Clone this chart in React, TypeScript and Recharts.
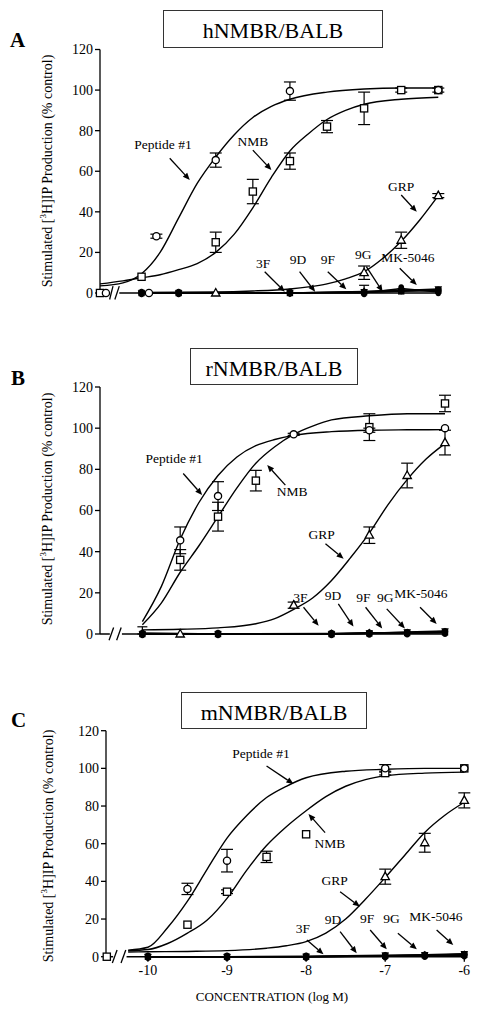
import React from 'react';
import {
  ComposedChart,
  Line,
  Scatter,
  XAxis,
  YAxis,
  ErrorBar,
  ReferenceLine,
  ReferenceDot,
} from 'recharts';

const FONT = '"Liberation Serif", "Times New Roman", serif';

// ---------- shared ----------
const yTicks = [0, 20, 40, 60, 80, 100, 120];
const xTicks = [-10, -9, -8, -7, -6];
const antagonistNames = ['3F', '9D', '9F', '9G', 'MK-5046'];

// ---------- Panel A : hNMBR/BALB ----------
const peptideFitA: number[][] = [
  [-10.56, 3.5], [-10.25, 5], [-10, 9.5], [-9.75, 20], [-9.5, 37], [-9.25, 54], [-9, 67],
  [-8.75, 78], [-8.5, 86.5], [-8.25, 92], [-8, 95.5], [-7.5, 99], [-7, 100.5], [-6.5, 101], [-6, 101],
];
const nmbFitA: number[][] = [
  [-10.56, 4.5], [-10.25, 6], [-10, 7.5], [-9.75, 9], [-9.5, 11.5], [-9.25, 14.5], [-9, 20],
  [-8.75, 29], [-8.5, 42], [-8.25, 57], [-8, 70], [-7.75, 78.5], [-7.5, 85.5], [-7.25, 90],
  [-7, 93], [-6.5, 95.5], [-6, 96.5],
];
const grpFitA: number[][] = [
  [-10, 0.3], [-9, 0.5], [-8.5, 1], [-8, 2], [-7.75, 3], [-7.5, 4.5], [-7.25, 7], [-7, 10.5],
  [-6.75, 17], [-6.5, 25.5], [-6.25, 36], [-6, 48],
];
const peptidePtsA: number[][] = [[-10.48, 0], [-9.9, 0], [-9.8, 28, 1], [-9, 65.5, 3.5], [-8, 99.5, 4.5], [-6, 100]];
const nmbPtsA: number[][] = [
  [-10.56, 0], [-10, 8], [-9, 25, 5], [-8.5, 50, 6], [-8, 65, 4], [-7.5, 82, 3], [-7, 91, 8],
  [-6.5, 100, 1], [-6, 100, 1],
];
const grpPtsA: number[][] = [[-9, 0], [-7, 10, 3.3], [-6.5, 26, 4], [-6, 48, 1]];
const antagXA = [-10, -9.5, -8, -7, -6.5, -6];
const antagYA: number[][] = [
  [0, 0, 0, 0.4, 0.8, 1.2],
  [0, 0, 0, 0.3, 1.0, 1.6],
  [0, 0, 0, 0.6, 1.2, 2.0],
  [0, 0, 0, 0.8, 1.5, 1.0],
  [0, 0, 0.2, 0, 2.2, 0.5],
];
const antagErrA: number[][] = [[], [], [], [0, 0, 0, 3], []];
const labelsA = [
  { text: 'Peptide #1', tx: -9.71, ty: 73.4, x1: -9.62, y1: 66.4, x2: -9.35, y2: 55.7 },
  { text: 'NMB', tx: -8.5, ty: 74.5, x1: -8.5, y1: 70.4, x2: -8.25, y2: 60.6 },
  { text: 'GRP', tx: -6.5, ty: 52.4, x1: -6.5, y1: 48.3, x2: -6.29, y2: 40 },
  { text: '3F', tx: -8.36, ty: 14.6, x1: -8.34, y1: 10.5, x2: -8.07, y2: 0.6 },
  { text: '9D', tx: -7.89, ty: 16.6, x1: -7.87, y1: 10.5, x2: -7.66, y2: 0.6 },
  { text: '9F', tx: -7.49, ty: 16.6, x1: -7.49, y1: 10.5, x2: -7.24, y2: 1.8 },
  { text: '9G', tx: -7.01, ty: 19.1, x1: -6.97, y1: 13, x2: -6.75, y2: 0.6 },
  { text: 'MK-5046', tx: -6.41, ty: 17.6, x1: -6.52, y1: 12.2, x2: -6.29, y2: 3.9 },
];

// ---------- Panel B : rNMBR/BALB ----------
const peptideFitB: number[][] = [
  [-10, 6], [-9.75, 23], [-9.5, 46], [-9.25, 64], [-9, 77], [-8.75, 86], [-8.5, 91.5],
  [-8.25, 94.5], [-8, 96.5], [-7.5, 98.3], [-7, 99], [-6.5, 99.2], [-6, 99.3],
];
const nmbFitB: number[][] = [
  [-10, 4.5], [-9.75, 15], [-9.5, 30], [-9.25, 43], [-9, 57], [-8.75, 71], [-8.5, 83],
  [-8.25, 91], [-8, 97], [-7.75, 101], [-7.5, 104], [-7, 106], [-6.5, 107], [-6, 107],
];
const grpFitB: number[][] = [
  [-10, 2], [-9.5, 2.3], [-9, 3], [-8.5, 5], [-8.25, 7.5], [-8, 12], [-7.75, 17.5], [-7.5, 26],
  [-7.25, 37], [-7, 49], [-6.75, 63], [-6.5, 75], [-6.25, 85], [-6, 92.5],
];
const peptidePtsB: number[][] = [[-9.5, 45.5, 6.5], [-9, 67, 7], [-8, 97, 0.5], [-7, 99, 1], [-6, 100]];
const nmbPtsB: number[][] = [[-9.5, 36, 5], [-9, 57, 7], [-8.5, 74.5, 5], [-7, 100.5, 6.5], [-6, 112, 4]];
const grpPtsB: number[][] = [[-9.5, 0], [-8, 14, 1.5], [-7, 48, 4], [-6.5, 77, 6], [-6, 93, 6]];
const antagXB = [-10, -9, -7.5, -7, -6.5, -6];
const antagYB: number[][] = [
  [0, 0, 0, 0.3, 0.5, 0.8],
  [0, 0, 0.2, 0.5, 0.8, 1.2],
  [0, 0, 0, 0.4, 1.0, 1.5],
  [0.5, 0, 0.3, 0.6, 0.6, 1.0],
  [0, 0, 0, 0.2, 0.4, 0.6],
];
const antagErrB: number[][] = [[3.5], [], [], [], []];
const labelsB = [
  { text: 'Peptide #1', tx: -9.58, ty: 85.4, x1: -9.46, y1: 78, x2: -9.21, y2: 67.5 },
  { text: 'NMB', tx: -8.02, ty: 69.1, x1: -8.11, y1: 72.3, x2: -8.35, y2: 82.1 },
  { text: 'GRP', tx: -7.63, ty: 48.4, x1: -7.58, y1: 43.9, x2: -7.34, y2: 36.6 },
  { text: '3F', tx: -7.91, ty: 17.9, x1: -7.87, y1: 13, x2: -7.67, y2: 4 },
  { text: '9D', tx: -7.48, ty: 18.7, x1: -7.41, y1: 14.6, x2: -7.21, y2: 3.6 },
  { text: '9F', tx: -7.08, ty: 17.9, x1: -7.05, y1: 13, x2: -6.83, y2: 2.7 },
  { text: '9G', tx: -6.79, ty: 17.9, x1: -6.77, y1: 12.2, x2: -6.53, y2: 2.7 },
  { text: 'MK-5046', tx: -6.32, ty: 19.5, x1: -6.33, y1: 13, x2: -6.11, y2: 4.9 },
];

// ---------- Panel C : mNMBR/BALB ----------
const peptideFitC: number[][] = [
  [-10.25, 3.5], [-10, 5], [-9.75, 15.5], [-9.5, 29.5], [-9.25, 46.5], [-9, 63], [-8.75, 75],
  [-8.5, 84.5], [-8.25, 90.5], [-8, 95], [-7.5, 98.5], [-7, 99.5], [-6.5, 100], [-6, 100],
];
const nmbFitC: number[][] = [
  [-10.25, 3.2], [-10, 3.8], [-9.75, 7], [-9.5, 12.5], [-9.25, 19.5], [-9, 31], [-8.75, 46],
  [-8.5, 59], [-8.25, 69], [-8, 77.5], [-7.75, 85], [-7.5, 90.5], [-7.25, 94], [-7, 96],
  [-6.5, 97.5], [-6, 98],
];
const grpFitC: number[][] = [
  [-10.25, 2.5], [-10, 2.6], [-9.5, 2.8], [-9, 3.2], [-8.5, 4.5], [-8.25, 5.8], [-8, 8],
  [-7.75, 12.5], [-7.5, 20], [-7.25, 30.5], [-7, 42], [-6.75, 54], [-6.5, 66], [-6.25, 75], [-6, 82],
];
const peptidePtsC: number[][] = [[-9.5, 36, 3], [-9, 51, 6], [-7, 100, 2], [-6, 100]];
const nmbPtsC: number[][] = [[-10.52, 0], [-9.5, 17], [-9, 34.5, 1], [-8.5, 53, 3], [-8, 65], [-7, 97.5, 1], [-6, 100]];
const grpPtsC: number[][] = [[-7, 42.5, 4], [-6.5, 60.5, 5], [-6, 83, 4]];
const antagXC = [-10, -9, -8, -7, -6.5, -6];
const antagYC: number[][] = [
  [0, 0, 0, 0.5, 0.8, 1.0],
  [0, 0, 0, 0.3, 0.6, 1.3],
  [0, 0, 0.2, 0.8, 1.0, 1.6],
  [0, 0, 0, 0.4, 0.9, 1.2],
  [0, 0, 0, 0.2, 0.5, 0.8],
];
const antagErrC: number[][] = [[], [], [], [], []];
const labelsC = [
  { text: 'Peptide #1', tx: -8.57, ty: 108, x1: -8.5, y1: 101.3, x2: -8.16, y2: 91.7 },
  { text: 'NMB', tx: -7.7, ty: 60.2, x1: -7.76, y1: 65.9, x2: -7.97, y2: 75.8 },
  { text: 'GRP', tx: -7.64, ty: 40.7, x1: -7.57, y1: 34.5, x2: -7.32, y2: 26.6 },
  { text: '3F', tx: -8.04, ty: 15.1, x1: -7.99, y1: 8.9, x2: -7.78, y2: 1.3 },
  { text: '9D', tx: -7.66, ty: 19.5, x1: -7.57, y1: 13.3, x2: -7.36, y2: 1.8 },
  { text: '9F', tx: -7.23, ty: 20.4, x1: -7.19, y1: 14.2, x2: -6.98, y2: 3.9 },
  { text: '9G', tx: -6.92, ty: 20.4, x1: -6.84, y1: 12.4, x2: -6.6, y2: 3.9 },
  { text: 'MK-5046', tx: -6.36, ty: 21.2, x1: -6.35, y1: 14.2, x2: -6.14, y2: 6.2 },
];

// ---------- helpers ----------
type Pt = { x: number; y: number; err?: number | number[] };
const toPts = (rows: number[][]): Pt[] => rows.map((r) => ({ x: r[0], y: r[1], err: r[2] }));
// antagonist error bars drawn upward only, so they never reach below zero
const toSeries = (xs: number[], ys: number[], errs: number[]): Pt[] =>
  xs.map((x, i) => ({ x, y: ys[i], err: errs[i] ? [Math.min(ys[i], 0.5), errs[i]] : undefined }));

const SW = 1.3;
const OpenCircle = (p: any) => <circle cx={p.cx} cy={p.cy} r={3.6} fill="#fff" stroke="#000" strokeWidth={SW} />;
const OpenSquare = (p: any) => (
  <rect x={p.cx - 3.6} y={p.cy - 3.6} width={7.2} height={7.2} fill="#fff" stroke="#000" strokeWidth={SW} />
);
const OpenTriangle = (p: any) => (
  <path d={`M${p.cx},${p.cy - 4.5}L${p.cx + 4.2},${p.cy + 3}L${p.cx - 4.2},${p.cy + 3}Z`} fill="#fff" stroke="#000" strokeWidth={SW} />
);
const FillSquare = (p: any) => <rect x={p.cx - 3.2} y={p.cy - 3.2} width={6.4} height={6.4} fill="#000" />;
const FillCircle = (p: any) => <circle cx={p.cx} cy={p.cy} r={3.2} fill="#000" />;
const FillTriangle = (p: any) => <path d={`M${p.cx},${p.cy + 3.8}L${p.cx + 3.8},${p.cy - 2.6}L${p.cx - 3.8},${p.cy - 2.6}Z`} fill="#000" />;
const FillDiamond = (p: any) => <path d={`M${p.cx},${p.cy - 4.2}L${p.cx + 3.2},${p.cy}L${p.cx},${p.cy + 4.2}L${p.cx - 3.2},${p.cy}Z`} fill="#000" />;
const FillOval = (p: any) => <ellipse cx={p.cx} cy={p.cy} rx={3} ry={4.2} fill="#000" />;
const antagShapes = [FillSquare, FillCircle, FillTriangle, FillDiamond, FillOval];

const Arrow = (p: any) => {
  const { x1, y1, x2, y2 } = p;
  const dx = x2 - x1;
  const dy = y2 - y1;
  const len = Math.hypot(dx, dy) || 1;
  const ux = dx / len;
  const uy = dy / len;
  const hl = 7;
  const hw = 3;
  const bx = x2 - ux * hl;
  const by = y2 - uy * hl;
  return (
    <g>
      <line x1={x1} y1={y1} x2={bx} y2={by} stroke="#000" strokeWidth={1.3} />
      <path d={`M${x2},${y2}L${bx - uy * hw},${by + ux * hw}L${bx + uy * hw},${by - ux * hw}Z`} fill="#000" />
    </g>
  );
};

type PanelCfg = {
  top: number;
  height: number;
  margin: { top: number; right: number; bottom: number; left: number };
  xDomain: [number, number];
  showX: boolean;
  axisSegs: number[][];
  slashes: number[][];
  fits: number[][][];
  peptide: number[][];
  nmb: number[][];
  grp: number[][];
  antagX: number[];
  antagY: number[][];
  antagErr: number[][];
  labels: { text: string; tx: number; ty: number; x1: number; y1: number; x2: number; y2: number }[];
};

const Panel = ({ c }: { c: PanelCfg }) => (
  <div style={{ position: 'absolute', left: 0, top: c.top, width: 480, height: c.height }}>
    <ComposedChart width={480} height={c.height} margin={c.margin} style={{ fontFamily: FONT }}>
      <XAxis
        type="number"
        dataKey="x"
        domain={c.xDomain}
        hide={!c.showX}
        ticks={xTicks}
        interval={0}
        tickFormatter={(v: number) => String(v)}
        axisLine={false}
        tickLine={{ stroke: '#000', strokeWidth: 1.3 }}
        tickSize={5}
        tickMargin={3}
        height={30}
        tick={{ fill: '#000', fontSize: 14, fontFamily: FONT }}
      />
      <YAxis
        type="number"
        dataKey="y"
        domain={[0, 120]}
        ticks={yTicks}
        interval={0}
        width={40}
        axisLine={{ stroke: '#000', strokeWidth: 1.3 }}
        tickLine={{ stroke: '#000', strokeWidth: 1.3 }}
        tickSize={5}
        tickMargin={2}
        tick={{ fill: '#000', fontSize: 14, fontFamily: FONT }}
      />
      {c.axisSegs.map((s, i) => (
        <ReferenceLine
          key={`ax${i}`}
          segment={[{ x: s[0], y: 0 }, { x: s[1], y: 0 }]}
          stroke="#000"
          strokeWidth={1.5}
          ifOverflow="visible"
        />
      ))}
      {c.slashes.map((s, i) => (
        <ReferenceLine
          key={`sl${i}`}
          segment={[{ x: s[0], y: s[1] }, { x: s[2], y: s[3] }]}
          stroke="#000"
          strokeWidth={1.3}
          ifOverflow="visible"
        />
      ))}
      {c.antagY.map((ys, i) => (
        <Line
          key={`al${i}`}
          data={toSeries(c.antagX, ys, [])}
          dataKey="y"
          type="linear"
          stroke="#000"
          strokeWidth={1.4}
          dot={false}
          isAnimationActive={false}
          name={antagonistNames[i]}
        />
      ))}
      {c.fits.map((f, i) => (
        <Line
          key={`fit${i}`}
          data={toPts(f)}
          dataKey="y"
          type="monotone"
          stroke="#000"
          strokeWidth={1.4}
          dot={false}
          isAnimationActive={false}
        />
      ))}
      {c.antagY.map((ys, i) => (
        <Scatter
          key={`as${i}`}
          data={toSeries(c.antagX, ys, c.antagErr[i])}
          dataKey="y"
          shape={antagShapes[i]}
          isAnimationActive={false}
        >
          <ErrorBar dataKey="err" direction="y" width={5} stroke="#000" strokeWidth={1.2} />
        </Scatter>
      ))}
      <Scatter data={toPts(c.grp)} dataKey="y" shape={OpenTriangle} isAnimationActive={false}>
        <ErrorBar dataKey="err" direction="y" width={6} stroke="#000" strokeWidth={1.2} />
      </Scatter>
      <Scatter data={toPts(c.nmb)} dataKey="y" shape={OpenSquare} isAnimationActive={false}>
        <ErrorBar dataKey="err" direction="y" width={6} stroke="#000" strokeWidth={1.2} />
      </Scatter>
      <Scatter data={toPts(c.peptide)} dataKey="y" shape={OpenCircle} isAnimationActive={false}>
        <ErrorBar dataKey="err" direction="y" width={6} stroke="#000" strokeWidth={1.2} />
      </Scatter>
      {c.labels.map((l, i) => (
        <ReferenceLine
          key={`ar${i}`}
          segment={[{ x: l.x1, y: l.y1 }, { x: l.x2, y: l.y2 }]}
          shape={Arrow}
          ifOverflow="visible"
        />
      ))}
      {c.labels.map((l, i) => (
        <ReferenceDot
          key={`lb${i}`}
          x={l.tx}
          y={l.ty}
          r={0}
          ifOverflow="visible"
          shape={(p: any) => (
            <text
              x={p.cx}
              y={p.cy}
              textAnchor="middle"
              dominantBaseline="central"
              fontFamily={FONT}
              fontSize={13.5}
              fill="#000"
            >
              {l.text}
            </text>
          )}
        />
      ))}
    </ComposedChart>
  </div>
);

const panelA: PanelCfg = {
  top: 0,
  height: 330,
  margin: { top: 49.5, right: 41.7, bottom: 37, left: 60 },
  xDomain: [-10.56, -6],
  showX: false,
  axisSegs: [[-10.56, -10.43], [-10.3, -6]],
  slashes: [[-10.43, -3.2, -10.385, 3.4], [-10.36, -3.2, -10.3, 3.4]],
  fits: [peptideFitA, nmbFitA, grpFitA],
  peptide: peptidePtsA,
  nmb: nmbPtsA,
  grp: grpPtsA,
  antagX: antagXA,
  antagY: antagYA,
  antagErr: antagErrA,
  labels: labelsA,
};

const panelB: PanelCfg = {
  top: 330,
  height: 330,
  margin: { top: 57, right: 35, bottom: 26, left: 60 },
  xDomain: [-10.56, -6],
  showX: false,
  axisSegs: [[-10.56, -10.43], [-10.27, -6]],
  slashes: [[-10.44, -3, -10.38, 3.2], [-10.34, -3, -10.28, 3.2]],
  fits: [peptideFitB, nmbFitB, grpFitB],
  peptide: peptidePtsB,
  nmb: nmbPtsB,
  grp: grpPtsB,
  antagX: antagXB,
  antagY: antagYB,
  antagErr: antagErrB,
  labels: labelsB,
};

const panelC: PanelCfg = {
  top: 660,
  height: 353,
  margin: { top: 70.7, right: 15.7, bottom: 26.3, left: 66 },
  xDomain: [-10.53, -6],
  showX: true,
  axisSegs: [[-10.53, -10.44], [-10.27, -6]],
  slashes: [[-10.45, -3.3, -10.39, 3.6], [-10.34, -3.3, -10.28, 3.6]],
  fits: [peptideFitC, nmbFitC, grpFitC],
  peptide: peptidePtsC,
  nmb: nmbPtsC,
  grp: grpPtsC,
  antagX: antagXC,
  antagY: antagYC,
  antagErr: antagErrC,
  labels: labelsC,
};

const titles = [
  { text: 'hNMBR/BALB', left: 163, top: 10, width: 220, height: 38 },
  { text: 'rNMBR/BALB', left: 190, top: 348, width: 168, height: 37 },
  { text: 'mNMBR/BALB', left: 181, top: 692, width: 186, height: 37 },
];
const letters = [
  { text: 'A', left: 10, top: 30 },
  { text: 'B', left: 11, top: 368 },
  { text: 'C', left: 11, top: 710 },
];
const yLabelCenters = [
  { x: 48.3, y: 171 },
  { x: 47.5, y: 509 },
  { x: 49, y: 846 },
];

export default function App() {
  return (
    <div
      style={{
        position: 'absolute',
        left: 0,
        top: 0,
        width: 480,
        height: 1013,
        background: '#fff',
        fontFamily: FONT,
        color: '#000',
        overflow: 'hidden',
      }}
    >
      <Panel c={panelA} />
      <Panel c={panelB} />
      <Panel c={panelC} />
      {titles.map((t) => (
        <div
          key={t.text}
          style={{
            position: 'absolute',
            left: t.left,
            top: t.top,
            width: t.width,
            height: t.height,
            boxSizing: 'border-box',
            border: '1.3px solid #333',
            textAlign: 'center',
          }}
        >
          <div style={{ marginTop: 9, fontSize: 22, lineHeight: '22px', whiteSpace: 'nowrap' }}>{t.text}</div>
        </div>
      ))}
      {letters.map((l) => (
        <div
          key={l.text}
          style={{ position: 'absolute', left: l.left, top: l.top, fontSize: 21, lineHeight: '21px', fontWeight: 'bold' }}
        >
          {l.text}
        </div>
      ))}
      {yLabelCenters.map((c, i) => (
        <div
          key={`yl${i}`}
          style={{
            position: 'absolute',
            left: c.x,
            top: c.y,
            transform: 'translate(-50%, -50%) rotate(-90deg)',
            whiteSpace: 'nowrap',
            fontSize: 14,
            lineHeight: '14px',
          }}
        >
          Stimulated [<sup style={{ fontSize: 9, lineHeight: 0 }}>3</sup>H]IP Production (% control)
        </div>
      ))}
      <div
        style={{
          position: 'absolute',
          left: 272,
          top: 996,
          transform: 'translate(-50%, -50%)',
          whiteSpace: 'nowrap',
          fontSize: 13,
          lineHeight: '13px',
        }}
      >
        CONCENTRATION (log M)
      </div>
    </div>
  );
}
